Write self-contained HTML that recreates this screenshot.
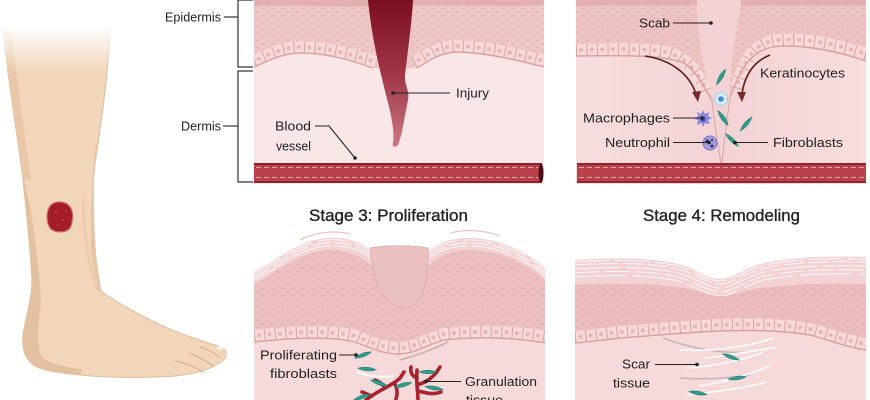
<!DOCTYPE html>
<html><head><meta charset="utf-8"><style>
html,body{margin:0;padding:0;background:#fff;}
svg{display:block}
text{font-family:"Liberation Sans",Arial,sans-serif;fill:#222;}
.l{font-size:13px}
.t{font-size:17px;stroke:#222;stroke-width:0.35px}
</style></head><body>
<svg width="870" height="400" viewBox="0 0 870 400" xmlns="http://www.w3.org/2000/svg">
<defs>
 <linearGradient id="inj" x1="0" y1="0" x2="0" y2="1">
  <stop offset="0" stop-color="#7c0f1f"/><stop offset="0.5" stop-color="#9f3545"/><stop offset="1" stop-color="#cc7782"/>
 </linearGradient>
 <linearGradient id="legfade" x1="0" y1="0" x2="0" y2="1">
  <stop offset="0" stop-color="#fff" stop-opacity="1"/><stop offset="1" stop-color="#fff" stop-opacity="0"/>
 </linearGradient>
 <linearGradient id="trd" x1="0" y1="0" x2="1" y2="0">
  <stop offset="0" stop-color="#f7dede"/><stop offset="0.5" stop-color="#f3d3d3"/><stop offset="1" stop-color="#f7dddd"/>
 </linearGradient>
 <pattern id="tex" width="10" height="7" patternUnits="userSpaceOnUse">
  <path d="M1,2 l4,-1 M6,5 l3,1" stroke="#d69c9c" stroke-width="0.8" opacity="0.6"/>
 </pattern>
 <path id="fib" d="M-9,0 Q0,-3.6 9,0 Q0,3.6 -9,0Z" fill="#2f9e8e" stroke="#1d7c70" stroke-width="0.6"/>
 <clipPath id="cTM"><rect x="254" y="0" width="290" height="184"/></clipPath>
 <clipPath id="cTR"><rect x="576" y="0" width="290" height="184"/></clipPath>
 <clipPath id="cBM"><rect x="254" y="225" width="291" height="175"/></clipPath>
 <clipPath id="cBR"><rect x="575" y="245" width="291" height="155"/></clipPath>
 <path id="sBR" d="M575,260 C620,257 660,258 685,266 C700,272 710,279 720,279 C732,279 742,270 760,264 C790,257 830,256 866,257" fill="none"/>
 <path id="sBML" d="M254,272 C275,262 295,242 325,238 C345,236 360,242 370,250" fill="none"/>
 <path id="sBMR" d="M430,250 C440,242 455,237 475,238 C505,240 530,255 545,268" fill="none"/>
</defs>

<!-- ================= LEG ================= -->
<g>
 <path d="M3,30 L110,30 C108,80 100,130 93,178 C91,220 95,260 101,291 C115,302 140,315 165,327 C185,336 205,342 218,346 C227,348 229,356 222,361 C212,369 195,374 175,376 C150,378 110,378 80,375 C60,373 45,371 35,366 C25,360 22,348 23,335 C25,320 32,300 32,280 C30,240 26,210 23,180 C18,140 8,80 3,30 Z" fill="#f1d6bb" stroke="#dfbb99" stroke-width="1"/>
 <path d="M3,30 C8,80 18,140 23,180 L31,180 C26,140 16,80 12,30 Z" fill="#e8c8a8"/>
 <path d="M23,180 C26,210 30,240 32,280 C32,300 25,320 23,335 C22,348 25,360 35,366 C45,371 60,373 80,375 L82,369 C62,367 48,363 42,357 C37,348 37,332 40,312 C42,296 39,270 35,240 C32,215 28,195 24,180 Z" fill="#e3c09f"/>
 <path d="M95,150 C92,180 90,220 91,250 C93,270 97,283 101,291 C96,265 93,225 94,180 C95,165 97,150 99,135 Z" fill="#e6c5a5"/>
 <path d="M84,185 C84,220 86,260 101,291 L97,291 C88,270 84,240 82,210 Z" fill="#e6c5a5" opacity="0.7"/>
 <path d="M175,361 C185,363 195,366 204,373" stroke="#d7ad8b" stroke-width="1" fill="none"/>
 <path d="M189,353 C199,357 207,361 214,367" stroke="#d7ad8b" stroke-width="1" fill="none"/>
 <path d="M200,347 C209,350 215,353 220,358" stroke="#d7ad8b" stroke-width="1" fill="none"/>
 <ellipse cx="220" cy="348" rx="3.5" ry="2" fill="#fbf3ec"/>
 <rect x="0" y="24" width="125" height="48" fill="url(#legfade)"/>
 <path d="M50,206 C55,200 66,201 70,207 C74,212 73,222 70,228 C66,233 56,233 51,229 C46,224 46,212 50,206 Z" fill="#a31c27" stroke="#c96a6a" stroke-width="1.2"/>
 <circle cx="56" cy="212" r="1" fill="#c2454d"/><circle cx="63" cy="220" r="1" fill="#c2454d"/><circle cx="58" cy="225" r="0.9" fill="#c2454d"/><circle cx="66" cy="211" r="0.9" fill="#c2454d"/>
</g>

<!-- ================= brackets & left labels ================= -->
<g stroke="#333" stroke-width="1.2" fill="none">
 <path d="M253,0 L238,0 L238,67 L253,67"/>
 <line x1="224" y1="17" x2="238" y2="17"/>
 <path d="M253,71 L238,71 L238,182 L253,182"/>
 <line x1="223" y1="126" x2="238" y2="126"/>
</g>
<text class="l" x="165" y="21.5" textLength="56" lengthAdjust="spacingAndGlyphs">Epidermis</text>
<text class="l" x="181" y="130.5" textLength="40" lengthAdjust="spacingAndGlyphs">Dermis</text>

<!-- ================= TOP MIDDLE PANEL ================= -->
<g clip-path="url(#cTM)">
 <rect x="254" y="0" width="290" height="184" fill="#f9e7e7"/>
 <path d="M254,0 L544,0 L544,67 C510,58 480,52 455,52 C440,53 430,60 417,68 L373,68 C350,60 330,54 305,53 C285,52 270,60 254,67 Z" fill="#eec6c6"/>
 <path d="M254,0 L544,0 L544,67 C510,58 480,52 455,52 C440,53 430,60 417,68 L373,68 C350,60 330,54 305,53 C285,52 270,60 254,67 Z" fill="url(#tex)"/>
 <path d="M254,0 L544,0 L544,5 C500,7 450,4 400,6 C350,8 300,4 254,6Z" fill="#e3afaf"/>
 <g fill="none">
  <path d="M254,61 C270,54 285,46 305,47 C330,48 350,54 376,62" stroke="#f5d8d8" stroke-width="12"/>
  <path d="M254,61 C270,54 285,46 305,47 C330,48 350,54 376,62" stroke="#d9a4a4" stroke-width="12" stroke-dasharray="1 9.5"/>
  <path d="M254,61 C270,54 285,46 305,47 C330,48 350,54 376,62" stroke="#e6b5b5" stroke-width="4" stroke-linecap="round" stroke-dasharray="0 10.5" stroke-dashoffset="-5.2"/>
  <path d="M414,62 C430,54 440,46 455,46 C480,46 510,52 544,61" stroke="#f5d8d8" stroke-width="12"/>
  <path d="M414,62 C430,54 440,46 455,46 C480,46 510,52 544,61" stroke="#d9a4a4" stroke-width="12" stroke-dasharray="1 9.5"/>
  <path d="M414,62 C430,54 440,46 455,46 C480,46 510,52 544,61" stroke="#e6b5b5" stroke-width="4" stroke-linecap="round" stroke-dasharray="0 10.5" stroke-dashoffset="-5.2"/>
  <path d="M254,67 C270,60 285,52 305,53 C330,54 350,60 373,68 M417,68 C430,60 440,53 455,52 C480,52 510,58 544,67" stroke="#d8a0a0" stroke-width="1.4"/>
 </g>
 <path d="M368,0 L413,0 C412,20 408,50 405,75 C404,85 410,90 408,100 C404,120 402,135 398,145 C395,148 392,147 393,143 C395,130 390,110 386,95 C380,70 372,40 368,0 Z" fill="url(#inj)"/>
 <rect x="254" y="163" width="288" height="20" fill="#b8424c"/>
 <rect x="254" y="163" width="288" height="2" fill="#92222f"/>
 <rect x="254" y="181" width="288" height="2" fill="#92222f"/>
 <line x1="256" y1="167.5" x2="538" y2="167.5" stroke="#f0c4c4" stroke-width="0.8" stroke-dasharray="5 3"/>
 <line x1="256" y1="177.5" x2="538" y2="177.5" stroke="#f0c4c4" stroke-width="0.8" stroke-dasharray="5 3"/>
 <ellipse cx="541" cy="173" rx="2.5" ry="9.5" fill="#4e0c15"/>
</g>
<g stroke="#222" stroke-width="1.1" fill="none">
 <line x1="393" y1="93" x2="450" y2="93"/>
 <path d="M315,126 L329,126 L355,158"/>
</g>
<circle cx="393" cy="93" r="1.8" fill="#222"/>
<circle cx="355" cy="158" r="1.8" fill="#222"/>
<text class="l" x="456" y="97.5" textLength="33" lengthAdjust="spacingAndGlyphs">Injury</text>
<text class="l" x="275" y="130.5" textLength="36" lengthAdjust="spacingAndGlyphs">Blood</text>
<text class="l" x="276" y="150.5" textLength="35" lengthAdjust="spacingAndGlyphs">vessel</text>

<!-- ================= TOP RIGHT PANEL ================= -->
<g clip-path="url(#cTR)">
 <rect x="576" y="0" width="290" height="184" fill="url(#trd)"/>
 <path d="M696,0 L742,0 C736,30 730,65 730,98 L721,110 L712,100 C703,68 698,35 696,0 Z" fill="#f2d2d2"/>
 <path d="M576,0 L696,0 C698,35 703,68 712,100 C703,86 697,72 684,63 C665,56 640,55 576,56 Z" fill="#edc3c3"/>
 <path d="M576,0 L696,0 C698,35 703,68 712,100 C703,86 697,72 684,63 C665,56 640,55 576,56 Z" fill="url(#tex)"/>
 <path d="M742,0 L866,0 L866,61 C840,52 800,43 772,47 C752,51 740,68 730,98 C730,65 736,30 742,0 Z" fill="#edc3c3"/>
 <path d="M742,0 L866,0 L866,61 C840,52 800,43 772,47 C752,51 740,68 730,98 C730,65 736,30 742,0 Z" fill="url(#tex)"/>
 <path d="M576,0 L697,0 L697,5 C670,6 620,4 576,6Z" fill="#e3afaf"/>
 <path d="M741,0 L866,0 L866,5 C830,6 780,4 741,6Z" fill="#e3afaf"/>
 <g fill="none">
  <path d="M576,50 C610,49 645,48 666,52 C686,57 698,71 707,93" stroke="#f5d8d8" stroke-width="12"/>
  <path d="M576,50 C610,49 645,48 666,52 C686,57 698,71 707,93" stroke="#d9a4a4" stroke-width="12" stroke-dasharray="1 9.5"/>
  <path d="M576,50 C610,49 645,48 666,52 C686,57 698,71 707,93" stroke="#e6b5b5" stroke-width="4" stroke-linecap="round" stroke-dasharray="0 10.5" stroke-dashoffset="-5.2"/>
  <path d="M866,54 C840,45 800,36 772,41 C754,45 744,59 736,89" stroke="#f5d8d8" stroke-width="12"/>
  <path d="M866,54 C840,45 800,36 772,41 C754,45 744,59 736,89" stroke="#d9a4a4" stroke-width="12" stroke-dasharray="1 9.5"/>
  <path d="M866,54 C840,45 800,36 772,41 C754,45 744,59 736,89" stroke="#e6b5b5" stroke-width="4" stroke-linecap="round" stroke-dasharray="0 10.5" stroke-dashoffset="-5.2"/>
  <path d="M576,56 C640,55 665,56 684,63 C697,72 703,86 712,100 M866,61 C840,52 800,43 772,47 C752,51 740,68 730,98" stroke="#d8a0a0" stroke-width="1.4"/>
  <path d="M712,100 C714,120 717,140 721,163 M730,98 C727,120 724,140 722,163" stroke="#dba5a5" stroke-width="1"/>
  <path d="M645,56 C672,60 690,75 696,94" stroke="#5a1c1c" stroke-width="1.6"/>
  <path d="M770,55 C752,62 744,78 742,94" stroke="#5a1c1c" stroke-width="1.6"/>
 </g>
 <path d="M692,92 L698,102 L701,91 Z" fill="#7a2a2a"/>
 <path d="M737,92 L742,102 L746,92 Z" fill="#7a2a2a"/>
 <rect x="577" y="163" width="289" height="20" fill="#b8424c"/>
 <rect x="577" y="163" width="289" height="2" fill="#92222f"/>
 <rect x="577" y="181" width="289" height="2" fill="#92222f"/>
 <line x1="579" y1="167.5" x2="866" y2="167.5" stroke="#f0c4c4" stroke-width="0.8" stroke-dasharray="5 3"/>
 <line x1="579" y1="177.5" x2="866" y2="177.5" stroke="#f0c4c4" stroke-width="0.8" stroke-dasharray="5 3"/>
 <!-- cells -->
 <circle cx="721" cy="99" r="6.5" fill="#d4ecf6" stroke="#9ccbe2" stroke-width="1.5" stroke-dasharray="2 1.2"/>
 <circle cx="721" cy="99" r="2.8" fill="#4a8cc8"/>
 <polygon points="703,110 705,114 709,112 708,116 712,118 708,120 710,124 705,123 703,127 701,123 697,125 698,120 694,119 698,116 697,112 701,114" fill="#8a88dc"/>
 <circle cx="703" cy="119" r="2.6" fill="#4c48a8"/>
 <circle cx="710" cy="143" r="7" fill="#a49cdc" stroke="#7e74c8" stroke-width="1"/>
 <circle cx="707" cy="141" r="1.5" fill="#30285e"/><circle cx="712" cy="146" r="1.5" fill="#30285e"/><circle cx="712" cy="140" r="1.1" fill="#30285e"/>
 <use href="#fib" transform="translate(721,77) rotate(-60)"/>
 <use href="#fib" transform="translate(723,118) rotate(55)"/>
 <use href="#fib" transform="translate(746,124) rotate(-50)"/>
 <use href="#fib" transform="translate(732,140) rotate(45)"/>
</g>
<g stroke="#222" stroke-width="1.1">
 <line x1="673" y1="23" x2="711" y2="23"/>
 <line x1="673" y1="118" x2="702" y2="118"/>
 <line x1="673" y1="142.5" x2="709" y2="142.5"/>
 <line x1="735" y1="142.5" x2="768" y2="142.5"/>
</g>
<circle cx="711" cy="23" r="1.8" fill="#222"/>
<circle cx="702" cy="118" r="1.8" fill="#222"/>
<circle cx="709" cy="142.5" r="1.8" fill="#222"/>
<circle cx="735" cy="142.5" r="1.8" fill="#222"/>
<text class="l" x="639" y="27.5" textLength="31" lengthAdjust="spacingAndGlyphs">Scab</text>
<text class="l" x="760" y="77.5" textLength="85" lengthAdjust="spacingAndGlyphs">Keratinocytes</text>
<text class="l" x="583" y="122.5" textLength="87" lengthAdjust="spacingAndGlyphs">Macrophages</text>
<text class="l" x="605" y="147" textLength="65" lengthAdjust="spacingAndGlyphs">Neutrophil</text>
<text class="l" x="773" y="147" textLength="70" lengthAdjust="spacingAndGlyphs">Fibroblasts</text>

<!-- ================= TITLES ================= -->
<text class="t" x="309" y="221" textLength="159" lengthAdjust="spacingAndGlyphs">Stage 3: Proliferation</text>
<text class="t" x="643" y="221" textLength="157" lengthAdjust="spacingAndGlyphs">Stage 4: Remodeling</text>

<!-- ================= BOTTOM MIDDLE PANEL ================= -->
<g clip-path="url(#cBM)">
 <path d="M254,272 C275,262 295,242 325,238 C345,236 360,242 370,250 L430,250 C440,242 455,237 475,238 C505,240 530,255 545,268 L545,400 L254,400 Z" fill="#f2d3d3"/>
 <g stroke="#fff" stroke-width="1" fill="none" opacity="0.85">
  <use href="#sBML" transform="translate(0,2)" stroke-dasharray="30 6"/>
  <use href="#sBML" transform="translate(0,5)" stroke-dasharray="18 4"/>
  <use href="#sBML" transform="translate(0,8)" stroke-dasharray="40 5"/>
  <use href="#sBMR" transform="translate(0,2)" stroke-dasharray="30 6"/>
  <use href="#sBMR" transform="translate(0,5)" stroke-dasharray="18 4"/>
  <use href="#sBMR" transform="translate(0,8)" stroke-dasharray="40 5"/>
 </g>
 <path d="M300,240 C315,232 335,230 350,234 M450,233 C465,229 485,230 500,236" stroke="#e8b8b8" stroke-width="1" fill="none"/>
 <path d="M254,284 C275,274 295,254 325,250 C345,248 360,256 372,266 L428,266 C440,254 455,249 475,250 C505,252 530,266 545,280 L545,343 C520,338 480,336 445,340 C425,345 415,354 398,354 C385,354 375,350 355,342 C330,336 290,338 254,342 Z" fill="#ecc0c0"/>
 <path d="M254,284 C275,274 295,254 325,250 C345,248 360,256 372,266 L428,266 C440,254 455,249 475,250 C505,252 530,266 545,280 L545,343 C520,338 480,336 445,340 C425,345 415,354 398,354 C385,354 375,350 355,342 C330,336 290,338 254,342 Z" fill="url(#tex)"/>
 <path d="M254,342 C290,338 330,336 355,342 C375,350 385,354 398,354 C415,354 425,345 445,340 C480,336 520,338 545,343 L545,400 L254,400 Z" fill="#f6dada"/>
 <g fill="none">
  <path d="M254,336 C290,332 330,330 355,336 C375,344 385,348 398,348 C415,348 425,339 445,334 C480,330 520,332 545,337" stroke="#f5d8d8" stroke-width="12"/>
  <path d="M254,336 C290,332 330,330 355,336 C375,344 385,348 398,348 C415,348 425,339 445,334 C480,330 520,332 545,337" stroke="#d9a4a4" stroke-width="12" stroke-dasharray="1 9.5"/>
  <path d="M254,336 C290,332 330,330 355,336 C375,344 385,348 398,348 C415,348 425,339 445,334 C480,330 520,332 545,337" stroke="#e6b5b5" stroke-width="4" stroke-linecap="round" stroke-dasharray="0 10.5" stroke-dashoffset="-5.2"/>
  <path d="M254,342 C290,338 330,336 355,342 C375,350 385,354 398,354 C415,354 425,345 445,340 C480,336 520,338 545,343" stroke="#d8a0a0" stroke-width="1.4"/>
 </g>
 <path d="M370,248 C385,245 415,245 428,248 C428,270 426,290 418,302 C412,308 398,309 392,304 C378,295 372,272 370,248 Z" fill="#eac0c1" stroke="#deaaab" stroke-width="0.8"/>
 <!-- arcs -->
 <path d="M400,360 C415,356 432,350 448,342" stroke="#c9b0b0" stroke-width="1.6" fill="none"/>
 <path d="M357,372 C368,376 382,378 393,376" stroke="#ffffff" stroke-width="2" fill="none"/>
 <!-- granulation vessels -->
 <g stroke="#a8222f" stroke-width="3.6" stroke-linecap="round" fill="none">
  <path d="M418,400 C418,392 416,384 417,370"/>
  <path d="M417,385 C424,383 430,380 436,373 L440,367"/>
  <path d="M417,378 C412,376 410,372 411,367"/>
  <path d="M418,391 C426,393 433,395 441,392"/>
  <path d="M366,400 C372,395 378,392 385,388 C390,385 395,383 400,378"/>
  <path d="M385,388 C383,384 380,382 375,380"/>
  <path d="M395,384 C397,389 398,393 396,399"/>
  <path d="M372,396 L362,392"/>
  <path d="M400,378 L404,372"/>
 </g>
 <use href="#fib" transform="translate(363,355) rotate(-20)"/>
 <use href="#fib" transform="translate(367,369) rotate(5)"/>
 <use href="#fib" transform="translate(379,383) rotate(20)"/>
 <use href="#fib" transform="translate(403,385) rotate(-15)"/>
 <use href="#fib" transform="translate(428,372) rotate(0)"/>
 <use href="#fib" transform="translate(434,388) rotate(10)"/>
 <use href="#fib" transform="translate(362,397) rotate(-20)"/>
</g>
<g stroke="#222" stroke-width="1.1">
 <line x1="339" y1="355" x2="356" y2="355"/>
 <line x1="426" y1="381.5" x2="461" y2="381.5"/>
</g>
<circle cx="356" cy="355" r="1.8" fill="#222"/>
<circle cx="426" cy="381.5" r="1.8" fill="#222"/>
<text class="l" x="260" y="359.5" textLength="77" lengthAdjust="spacingAndGlyphs">Proliferating</text>
<text class="l" x="270" y="378" textLength="67" lengthAdjust="spacingAndGlyphs">fibroblasts</text>
<text class="l" x="465" y="386" textLength="72" lengthAdjust="spacingAndGlyphs">Granulation</text>
<text class="l" x="466" y="404.5" textLength="37" lengthAdjust="spacingAndGlyphs">tissue</text>

<!-- ================= BOTTOM RIGHT PANEL ================= -->
<g clip-path="url(#cBR)">
 <path d="M575,260 C620,257 660,258 685,266 C700,272 710,279 720,279 C732,279 742,270 760,264 C790,257 830,256 866,257 L866,400 L575,400 Z" fill="#f2d2d2"/>
 <g stroke="#fff" stroke-width="1" fill="none" opacity="0.85">
  <use href="#sBR" transform="translate(0,2)" stroke-dasharray="35 5"/>
  <use href="#sBR" transform="translate(0,5)" stroke-dasharray="20 4"/>
  <use href="#sBR" transform="translate(0,9)" stroke-dasharray="45 6"/>
  <use href="#sBR" transform="translate(0,13)" stroke-dasharray="25 5"/>
  <use href="#sBR" transform="translate(0,17)" stroke-dasharray="50 8"/>
 </g>
 <path d="M575,285 C620,283 670,284 695,290 C705,293 712,296 720,296 C730,296 740,292 755,289 C790,284 830,283 866,284 L866,350 C845,347 830,340 810,335 C780,330 750,330 720,331 C690,332 650,336 620,338 C600,340 590,342 575,343 Z" fill="#ecbdbd"/>
 <path d="M575,285 C620,283 670,284 695,290 C705,293 712,296 720,296 C730,296 740,292 755,289 C790,284 830,283 866,284 L866,350 C845,347 830,340 810,335 C780,330 750,330 720,331 C690,332 650,336 620,338 C600,340 590,342 575,343 Z" fill="url(#tex)"/>
 <path d="M575,343 C590,342 600,340 620,338 C650,336 690,332 720,331 C750,330 780,330 810,335 C830,340 845,347 866,350 L866,400 L575,400 Z" fill="#f6d9d9"/>
 <g fill="none">
  <path d="M575,337 C590,336 600,334 620,332 C650,330 690,326 720,325 C750,324 780,324 810,329 C830,334 845,341 866,344" stroke="#f5d8d8" stroke-width="12"/>
  <path d="M575,337 C590,336 600,334 620,332 C650,330 690,326 720,325 C750,324 780,324 810,329 C830,334 845,341 866,344" stroke="#d9a4a4" stroke-width="12" stroke-dasharray="1 9.5"/>
  <path d="M575,337 C590,336 600,334 620,332 C650,330 690,326 720,325 C750,324 780,324 810,329 C830,334 845,341 866,344" stroke="#e6b5b5" stroke-width="4" stroke-linecap="round" stroke-dasharray="0 10.5" stroke-dashoffset="-5.2"/>
  <path d="M575,343 C590,342 600,340 620,338 C650,336 690,332 720,331 C750,330 780,330 810,335 C830,340 845,347 866,350" stroke="#d8a0a0" stroke-width="1.4"/>
 </g>
 <!-- scar strands -->
 <g fill="none" stroke-width="1.6">
  <path d="M663,338 C690,348 720,354 747,352" stroke="#c9b4b4"/>
  <path d="M680,350 C715,352 750,346 773,338" stroke="#ffffff"/>
  <path d="M687,368 C715,366 745,360 763,352" stroke="#ffffff"/>
  <path d="M680,378 C705,380 730,378 750,375" stroke="#c9b4b4"/>
  <path d="M687,395 C715,392 745,388 767,382" stroke="#ffffff"/>
  <path d="M700,386 C725,382 748,375 770,366" stroke="#ffffff"/>
  <path d="M705,358 C730,356 752,350 775,348" stroke="#ffffff"/>
 </g>
 <use href="#fib" transform="translate(731,357) rotate(20)"/>
 <use href="#fib" transform="translate(737,378) rotate(-8)"/>
 <use href="#fib" transform="translate(698,393) rotate(10)"/>
</g>
<line x1="655" y1="364.5" x2="697" y2="364.5" stroke="#222" stroke-width="1.1"/>
<circle cx="697" cy="364.5" r="1.8" fill="#222"/>
<text class="l" x="622" y="368.5" textLength="28" lengthAdjust="spacingAndGlyphs">Scar</text>
<text class="l" x="613" y="387.5" textLength="37" lengthAdjust="spacingAndGlyphs">tissue</text>
</svg>
</body></html>
